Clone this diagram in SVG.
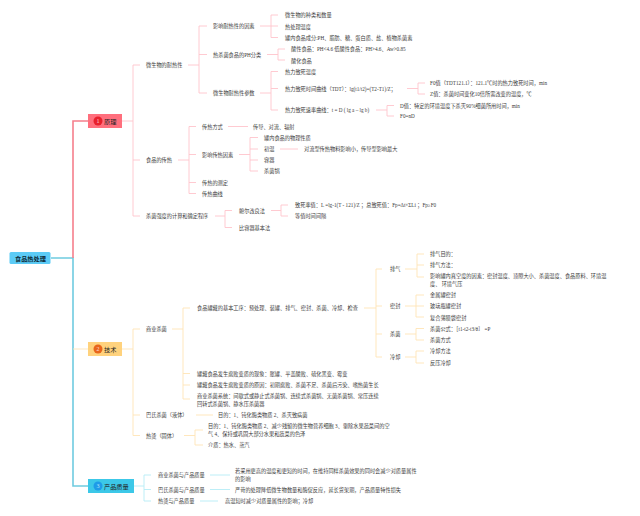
<svg xmlns="http://www.w3.org/2000/svg" width="640" height="516" viewBox="0 0 640 516">
<style>
text{font-family:"Liberation Serif","Noto Sans CJK SC",sans-serif;font-size:5.2px;fill:#3a3a3a;dominant-baseline:central}
.m{font-size:6.2px;fill:#222}
.r{font-size:6.2px;fill:#0d2b3a;font-weight:bold}
.n{font-size:6px;fill:#ffd9d9;text-anchor:middle}
path{fill:none}
.t{stroke-width:1.6}
.pk{stroke:#ffc4cc;stroke-width:.9}
.or{stroke:#ffe4b5;stroke-width:.9}
.bl{stroke:#b5ecf6;stroke-width:.9}
</style>
<rect width="640" height="516" fill="#fff"/>
<g id="connectors">
<path class="t" stroke="#6fcbe0" d="M51 258H73V486H88"/>
<path class="t" stroke="#f57f8c" d="M73 258V121H88"/>
<path class="or" d="M73 349H88"/>
<path class="pk" d="M122 121H133M140 65H133V216H140M133 160H140"/>
<path class="pk" d="M188 65H199M207 26H199V93H207M199 54.500H207"/>
<path class="pk" d="M260 26H271M278 15H271V37.500H278M271 26H278"/>
<path class="pk" d="M267 54.500H278M285 49H278V60H285"/>
<path class="pk" d="M260 93H271M278 71.500H271V110H278M271 88.500H278"/>
<path class="pk" d="M407 88.500H418M425 83H418V94H425"/>
<path class="pk" d="M376 110H387M394 105.500H387V116H394"/>
<path class="pk" d="M178 160H189M196 126.500H189V193.500H196M189 154.500H196M189 182.500H196"/>
<path class="pk" d="M228 126.500H248"/>
<path class="pk" d="M239 154.500H250M258 137.500H250V171H258M250 149H258M250 160H258"/>
<path class="pk" d="M280 149H298"/>
<path class="pk" d="M215 216H225M232 210.500H225V227.500H232"/>
<path class="pk" d="M271 210.500H281M288 205H281V216H288"/>
<path class="or" d="M122 349H133M140 329H133V435.500H140M133 415H140"/>
<path class="or" d="M172 329H183M190 308H183V399H190M183 373.500H190M183 385H190"/>
<path class="or" d="M364 308H376M382 269H376V357H382M376 306H382M376 334H382"/>
<path class="or" d="M405 269H417M424 254H417V277H424M417 265H424"/>
<path class="or" d="M405 306H416M424 295H416V317H424M416 306H424"/>
<path class="or" d="M405 334H416M424 328.500H416V340H424"/>
<path class="or" d="M405 357H416M424 351H416V363H424"/>
<path class="or" d="M196 415H213"/>
<path class="or" d="M184 435.500H195M203 430H195V445H203"/>
<path class="bl" d="M134 486H144M151 475H144V501H151M144 489.500H151"/>
<path class="bl" d="M210 475H230M210 489.500H230M200 501H218"/>
</g>
<g id="root"><rect x="9.500" y="252" width="41" height="12" rx="1.500" fill="#5ccbf6"/><text class="r" x="15" y="258">食品热处理</text></g>
<g id="n1"><rect x="88" y="114" width="34" height="14" fill="#ff6f7d"/><circle cx="98" cy="121" r="4.500" fill="#e8202c"/><text class="n" x="98" y="121">1</text><text class="m" x="104" y="121">原理</text></g>
<g id="n2"><rect x="88" y="342" width="34" height="14" fill="#ffd27d"/><circle cx="98" cy="349" r="4.500" fill="#e8661c"/><text class="n" x="98" y="349">2</text><text class="m" x="104" y="349">技术</text></g>
<g id="n3"><rect x="88" y="479" width="46" height="14" fill="#3cc8e8"/><circle cx="98" cy="486" r="4.500" fill="#1e9be8"/><text class="n" x="98" y="486" style="fill:#bfe6fb">3</text><text class="m" x="104" y="486">产品质量</text></g>
<g id="principle">
<text x="146" y="65">微生物的耐热性</text>
<text x="146" y="160">食品的传热</text>
<text x="146" y="216">杀菌强度的计算和确定程序</text>
<text x="213" y="26">影响耐热性的因素</text>
<text x="213" y="54.500">热杀菌食品的PH分类</text>
<text x="213" y="93">微生物耐热性参数</text>
<text x="285" y="15">微生物的种类和数量</text>
<text x="285" y="26.500">热处理温度</text>
<text x="285" y="37.500">罐内食品成分:PH、脂肪、糖、蛋白质、盐、植物杀菌素</text>
<text x="291" y="49">酸性食品：PH&lt;4.6 低酸性食品：PH&gt;4.6、Aw&gt;0.85</text>
<text x="291" y="60.500">酸化食品</text>
<text x="285" y="71.500">热力致死温度</text>
<text x="285" y="88.500">热力致死时间曲线（TDT）：lg(t1/t2)=(T2-T1)/Z；</text>
<text x="285" y="110">热力致死速率曲线：t = D ( lg a – lg b)</text>
<text x="430" y="83">F0值（TDT121.1）：121.1℃时的热力致死时间，min</text>
<text x="430" y="94">Z值：杀菌时间变化10倍所需改变的温度，℃</text>
<text x="400" y="105.500">D值：特定的环境温度下杀灭90%细菌所用时间，min</text>
<text x="400" y="116">F0=nD</text>
<text x="202" y="126.500">传热方式</text>
<text x="253" y="126.500">传导、对流、辐射</text>
<text x="202" y="154.500">影响传热因素</text>
<text x="202" y="182.500">传热的测定</text>
<text x="202" y="193.500">传热曲线</text>
<text x="264" y="137.500">罐内食品的物理性质</text>
<text x="264" y="149">初温</text>
<text x="304" y="149">对流型传热物料影响小，传导型影响最大</text>
<text x="264" y="160">容器</text>
<text x="264" y="171">杀菌锅</text>
<text x="239" y="210.500">鲍尔改良法</text>
<text x="239" y="227.500">比容器基本法</text>
<text x="295" y="205">致死率值：L =lg-1(T - 121)/Z ；总致死值：Fp=Δt×ΣLi ；Fp≥F0</text>
<text x="295" y="216">等值时间间隔</text>
</g>
<g id="technique">
<text x="146" y="329">商业杀菌</text>
<text x="146" y="415">巴氏杀菌（液体）</text>
<text x="146" y="435.500">热烫（固体）</text>
<text x="197" y="308">食品罐藏的基本工序：预处理、装罐、排气、密封、杀菌、冷却、检查</text>
<text x="197" y="373.500">罐藏食品发生腐败变质的现象：胀罐、平盖酸败、硫化黑变、霉变</text>
<text x="197" y="385">罐藏食品发生腐败变质的原因：初期腐败、杀菌不足、杀菌后污染、嗜热菌生长</text>
<text x="197" y="396">商业杀菌系统：间歇式或静止式杀菌锅、连续式杀菌锅、无菌杀菌锅、常压连续</text>
<text x="197" y="404">回转式杀菌锅、静水压杀菌器</text>
<text x="390" y="269">排气</text>
<text x="390" y="306">密封</text>
<text x="390" y="334">杀菌</text>
<text x="390" y="357">冷却</text>
<text x="430" y="254">排气目的：</text>
<text x="430" y="265">排气方法：</text>
<text x="430" y="276">影响罐内真空度的因素：密封温度、顶隙大小、杀菌温度、食品原料、环境温</text>
<text x="430" y="284">度、 环境气压</text>
<text x="430" y="295">金属罐密封</text>
<text x="430" y="306">玻璃瓶罐密封</text>
<text x="430" y="317.500">复合薄膜袋密封</text>
<text x="430" y="328.500">杀菌公式：［t1-t2-t3/θ］ =P</text>
<text x="430" y="340">杀菌方式</text>
<text x="430" y="351">冷却方法</text>
<text x="430" y="363">反压冷却</text>
<text x="218" y="415">目的：1、钝化酶类物质 2、杀灭致病菌</text>
<text x="208" y="426">目的：1、钝化酶类物质 2、减少残留的微生物营养细胞 3、驱除水果蔬菜间的空</text>
<text x="208" y="434">气 4、保持或巩固大部分水果和蔬菜的色泽</text>
<text x="208" y="445">介质：热水、蒸汽</text>
</g>
<g id="quality">
<text x="158" y="475">商业杀菌与产品质量</text>
<text x="158" y="489.500">巴氏杀菌与产品质量</text>
<text x="158" y="501">热烫与产品质量</text>
<text x="235" y="471">若采用更高的温度和更短的时间，在维持同样杀菌效果的同时会减少对质量属性</text>
<text x="235" y="479">的影响</text>
<text x="235" y="489.500">严苛的处理降低微生物数量和酶促反应，延长货架期，产品质量特性损失</text>
<text x="225" y="501">高温短时减少对质量属性的影响；冷却</text>
</g>
</svg>
